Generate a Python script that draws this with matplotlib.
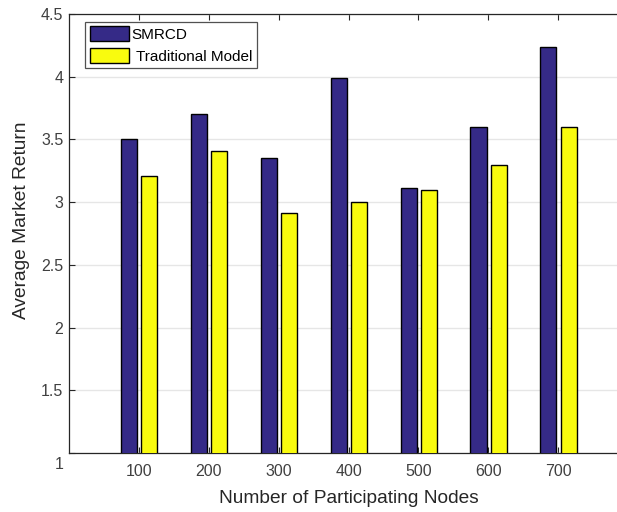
import numpy as np
import matplotlib
matplotlib.use('Agg')
import matplotlib.pyplot as plt
from matplotlib.transforms import ScaledTranslation

plt.rcParams['font.family'] = ['Liberation Sans', 'DejaVu Sans']

nodes = [100, 200, 300, 400, 500, 600, 700]
smrcd = [3.50, 3.70, 3.35, 3.99, 3.11, 3.60, 4.24]
traditional = [3.21, 3.41, 2.91, 3.00, 3.10, 3.30, 3.60]

blue = '#352a87'
yellow = '#f9fb0e'

fig = plt.figure(figsize=(6.17, 5.12), dpi=100)
ax = fig.add_axes([69 / 617, 59 / 512, (628 - 69) / 617, (453 - 14) / 512])

x = np.arange(1, len(nodes) + 1)
w = 0.23
ax.bar(x - 0.14, smrcd, w, color=blue, edgecolor='black', linewidth=1.0,
       label='SMRCD', zorder=3)
ax.bar(x + 0.15, traditional, w, color=yellow, edgecolor='black', linewidth=1.0,
       label=' Traditional Model', zorder=3)

ax.set_xlim(0, 8)
ax.set_ylim(1, 4.5)
ax.set_xticks(x)
ax.set_xticklabels([str(n) for n in nodes])
ax.set_yticks(np.arange(1, 4.51, 0.5))
ax.set_yticklabels(['1', '1.5', '2', '2.5', '3', '3.5', '4', '4.5'])
ax.yaxis.grid(True, color='#e6e6e6', linewidth=1.0, zorder=0)
ax.set_axisbelow(True)
ax.tick_params(direction='in', top=True, right=True, length=4, labelsize=11.5,
               colors='#262626', labelcolor='#404040')
ax.tick_params(axis='x', pad=8)
ax.tick_params(axis='y', pad=4)
for s in ax.spines.values():
    s.set_color('#262626')
    s.set_linewidth(0.9)

# the "1" label sits a bit lower in the original
lab = ax.get_yticklabels()[0]
lab.set_transform(lab.get_transform() + ScaledTranslation(0, -10 / 100, fig.dpi_scale_trans))

ax.set_xlabel('Number of Participating Nodes', fontsize=13.8, color='#262626')
ax.set_ylabel('Average Market Return', fontsize=13.8, color='#262626')
ax.xaxis.set_label_coords(0.5, -0.084)
ax.yaxis.set_label_coords(-0.069, 0.53)

leg = ax.legend(loc='upper left', bbox_to_anchor=(0.0286, 0.982), fontsize=11,
                frameon=True, fancybox=False, edgecolor='#262626',
                handlelength=2.55, handleheight=1.1, handletextpad=0.2,
                borderpad=0.3, labelspacing=0.4, borderaxespad=0)
leg.get_frame().set_linewidth(0.9)

fig.savefig('out.png', dpi=100)
